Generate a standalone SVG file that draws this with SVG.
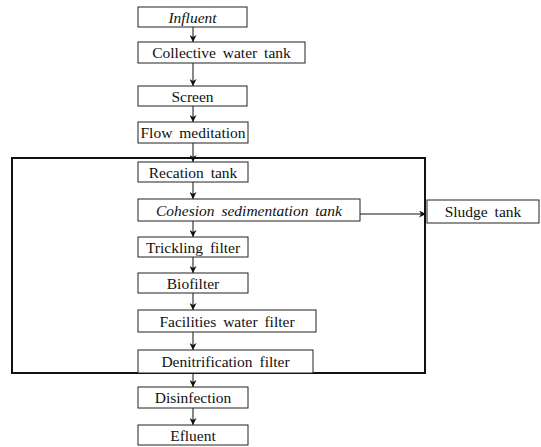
<svg xmlns="http://www.w3.org/2000/svg" width="541" height="447" viewBox="0 0 541 447">
<style>
.bx{fill:#fff;stroke:#222;stroke-width:1}
.fr{fill:none;stroke:#111;stroke-width:2}
.t{font-family:"Liberation Serif","Times New Roman","DejaVu Serif",serif;font-size:15.5px;fill:#111;text-anchor:middle;word-spacing:3px}
.it{font-style:italic}
.ln{stroke:#111;stroke-width:1;fill:none}
</style>
<defs>
<marker id="ah" viewBox="0 0 10 10" refX="10" refY="5" markerWidth="7" markerHeight="7" orient="auto" markerUnits="userSpaceOnUse">
<path d="M0,0 L10,5 L0,10 L3,5 Z" fill="#111"/>
</marker>
</defs>
<rect id="frame" class="fr" x="12" y="158" width="413" height="215"/>
<g id="connectors">
<line class="ln" x1="193" y1="27" x2="193" y2="42" marker-end="url(#ah)"/>
<line class="ln" x1="193" y1="63" x2="193" y2="86" marker-end="url(#ah)"/>
<line class="ln" x1="193" y1="106" x2="193" y2="122" marker-end="url(#ah)"/>
<line class="ln" x1="193" y1="143" x2="193" y2="162" marker-end="url(#ah)"/>
<line class="ln" x1="193" y1="182" x2="193" y2="199" marker-end="url(#ah)"/>
<line class="ln" x1="193" y1="221" x2="193" y2="237" marker-end="url(#ah)"/>
<line class="ln" x1="193" y1="257" x2="193" y2="273" marker-end="url(#ah)"/>
<line class="ln" x1="193" y1="293" x2="193" y2="310" marker-end="url(#ah)"/>
<line class="ln" x1="193" y1="332" x2="193" y2="350" marker-end="url(#ah)"/>
<line class="ln" x1="193" y1="373" x2="193" y2="387" marker-end="url(#ah)"/>
<line class="ln" x1="193" y1="408" x2="193" y2="425" marker-end="url(#ah)"/>
<line class="ln" x1="360" y1="214" x2="426" y2="214" marker-end="url(#ah)"/>
</g>
<g id="influent"><rect class="bx" x="138" y="7" width="109" height="20"/><text class="t it" x="192.5" y="22.5">Influent</text></g>
<g id="collective"><rect class="bx" x="138" y="42" width="167" height="21"/><text class="t" x="221.5" y="58">Collective water tank</text></g>
<g id="screen"><rect class="bx" x="138" y="86" width="109" height="20"/><text class="t" x="192.5" y="101.5">Screen</text></g>
<g id="flow"><rect class="bx" x="138" y="122" width="110" height="21"/><text class="t" x="193" y="138">Flow meditation</text></g>
<g id="recation"><rect class="bx" x="138" y="162" width="110" height="20"/><text class="t" x="193" y="177.5">Recation tank</text></g>
<g id="cohesion"><rect class="bx" x="138" y="199" width="222" height="22"/><text class="t it" x="249" y="215.5">Cohesion sedimentation tank</text></g>
<g id="trickling"><rect class="bx" x="138" y="237" width="110" height="20"/><text class="t" x="193" y="252.5">Trickling filter</text></g>
<g id="biofilter"><rect class="bx" x="138" y="273" width="110" height="20"/><text class="t" x="193" y="288.5">Biofilter</text></g>
<g id="facilities"><rect class="bx" x="138" y="310" width="178" height="22"/><text class="t" x="227" y="326.5">Facilities water filter</text></g>
<g id="denitrification"><rect class="bx" x="138" y="350" width="175" height="23"/><text class="t" x="225.5" y="366.5">Denitrification filter</text></g>
<g id="disinfection"><rect class="bx" x="138" y="387" width="110" height="21"/><text class="t" x="193" y="403">Disinfection</text></g>
<g id="effluent"><rect class="bx" x="138" y="425" width="110" height="20"/><text class="t" x="193" y="440.5">Efluent</text></g>
<g id="sludge"><rect class="bx" x="427" y="200" width="112" height="23"/><text class="t" x="483" y="216.5">Sludge tank</text></g>
</svg>
